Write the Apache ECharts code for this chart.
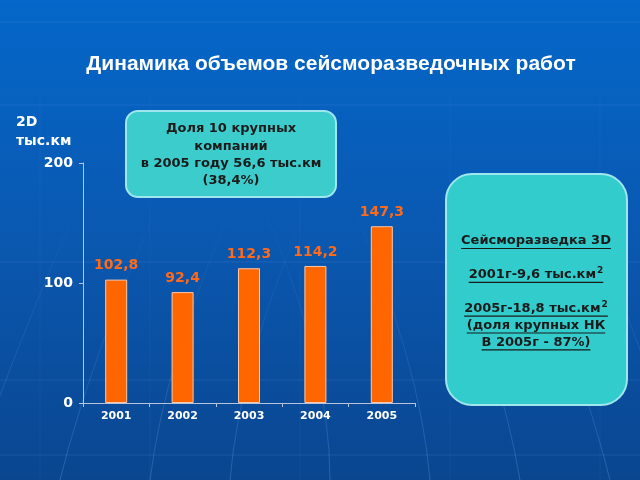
<!DOCTYPE html>
<html><head><meta charset="utf-8">
<script src="https://cdn.jsdelivr.net/npm/echarts@6/dist/echarts.min.js"></script>
<style>html,body{margin:0;padding:0;}#c{width:640px;height:480px;}</style>
</head><body><div id="c"></div>
<script>
const titleText = 'Динамика объемов сейсморазведочных работ';
const years = ['2001', '2002', '2003', '2004', '2005'];
const volumes2D = [102.8, 92.4, 112.3, 114.2, 147.3];
const yTicks = [0, 100, 200];
const box1Lines = ['Доля 10 крупных', 'компаний', 'в 2005 году 56,6 тыс.км', '(38,4%)'];
// [main text, superscript]
const box2Lines = [['Сейсморазведка 3D',''], ['',''], ['2001г-9,6 тыс.км','2'], ['',''], ['2005г-18,8 тыс.км','2'], ['(доля крупных НК',''], ['В 2005г - 87%)','']];

const chart = echarts.init(document.getElementById('c'));
const bold = 'DejaVu Sans';
const boxFont = 'bold 13px "' + bold + '"';
const supFont = 'bold 9px "' + bold + '"';
const mctx = document.createElement('canvas').getContext('2d');
function tw(t, f) { mctx.font = f; return mctx.measureText(t).width; }

const bgLines = [];
[22, 105, 262, 380, 455].forEach(y => bgLines.push({type:'line', z:-9, silent:true,
  shape:{x1:0,y1:y,x2:640,y2:y}, style:{stroke:'rgba(120,170,240,0.16)', lineWidth:1}}));
[40, 150, 300, 450, 600].forEach(x => bgLines.push({type:'line', z:-9, silent:true,
  shape:{x1:x,y1:95,x2:x,y2:480}, style:{stroke:'rgba(120,170,240,0.08)', lineWidth:1}}));
const fade = new echarts.graphic.LinearGradient(0,1,0,0,[{offset:0,color:'rgba(150,200,255,0.22)'},{offset:1,color:'rgba(150,200,255,0)'}]);
[[-30,10],[60,90],[150,165],[230,240],[330,330],[430,420],[520,500],[610,580],[680,650]].forEach(([x,cx]) => bgLines.push({type:'bezierCurve', z:-9, silent:true,
  shape:{x1:x, y1:480, x2:cx + (x<320?70:-70), y2:200, cpx1:cx, cpy1:360}, style:{stroke:fade, fill:null, lineWidth:1}}));

const graphics = [
  {type:'rect', z:-10, silent:true, shape:{x:0,y:0,width:640,height:480},
   style:{fill:new echarts.graphic.LinearGradient(0,0,0,1,[{offset:0,color:'#0467c9'},{offset:0.5,color:'#0a58b0'},{offset:1,color:'#0a4690'}])}},
  ...bgLines,
  {type:'text', left:16, top:113, z:5, style:{text:'2D\nтыс.км', fill:'#ffffff', font:'bold 14px "' + bold + '"', lineHeight:19}},
  {type:'rect', z:5, shape:{x:126, y:111, width:210, height:86, r:12},
   style:{fill:'#3ccccc', stroke:'#9fe6ee', lineWidth:2}},
  {type:'rect', z:5, shape:{x:446, y:174, width:181, height:231, r:26},
   style:{fill:'#33cccc', stroke:'#9fe6ee', lineWidth:2}}
];
box1Lines.forEach((t, i) => graphics.push({type:'text', z:10, x:231, y:129 + i*17.3,
  style:{text:t, fill:'#1a1a1a', font:boxFont, align:'center', verticalAlign:'middle'}}));
box2Lines.forEach(([t, s], i) => {
  if (!t) return;
  const y = 241 + i*16.9;
  const w = tw(t, boxFont) + (s ? tw(s, supFont) + 1 : 0);
  const x0 = 536 - w/2;
  graphics.push({type:'text', z:10, x:x0, y:y,
    style:{text:t, fill:'#1a1a1a', font:boxFont, align:'left', verticalAlign:'middle'}});
  if (s) graphics.push({type:'text', z:10, x:x0 + tw(t, boxFont) + 1, y:y - 4,
    style:{text:s, fill:'#1a1a1a', font:supFont, align:'left', verticalAlign:'middle'}});
  graphics.push({type:'line', z:11, silent:true, shape:{x1:x0, y1:y+7.5, x2:x0+w, y2:y+7.5},
    style:{stroke:'#1a1a1a', lineWidth:1.2}});
});

chart.setOption({
  animation:false,
  title:{text:titleText, left:326, top:49, textAlign:'center',
    textStyle:{color:'#ffffff', fontFamily:'Liberation Sans', fontWeight:'bold', fontSize:21}},
  graphic: graphics,
  grid:{left:83, right:225, top:163, bottom:77},
  xAxis:{type:'category', data:years,
    axisLine:{lineStyle:{color:'#b8c4dc', width:1}},
    axisTick:{show:true, alignWithLabel:false, length:4, lineStyle:{color:'#b8c4dc'}},
    axisLabel:{color:'#ffffff', fontFamily:bold, fontWeight:'bold', fontSize:11, margin:8},
    splitLine:{show:false}},
  yAxis:{type:'value', min:0, max:200, interval:100,
    axisLine:{show:true, lineStyle:{color:'#b8c4dc', width:1}},
    axisTick:{show:true, length:4, lineStyle:{color:'#b8c4dc'}},
    axisLabel:{color:'#ffffff', fontFamily:bold, fontWeight:'bold', fontSize:14, margin:10},
    splitLine:{show:false}},
  series:[{type:'bar', data:volumes2D, barWidth:22,
    itemStyle:{color:'#ff6600', borderColor:'#ffc8a8', borderWidth:1},
    label:{show:true, position:'top', distance:7, color:'#ff6a1a', fontFamily:bold, fontWeight:'bold', fontSize:14,
      formatter: p => String(p.value).replace('.', ',')}}]
});
</script></body></html>
